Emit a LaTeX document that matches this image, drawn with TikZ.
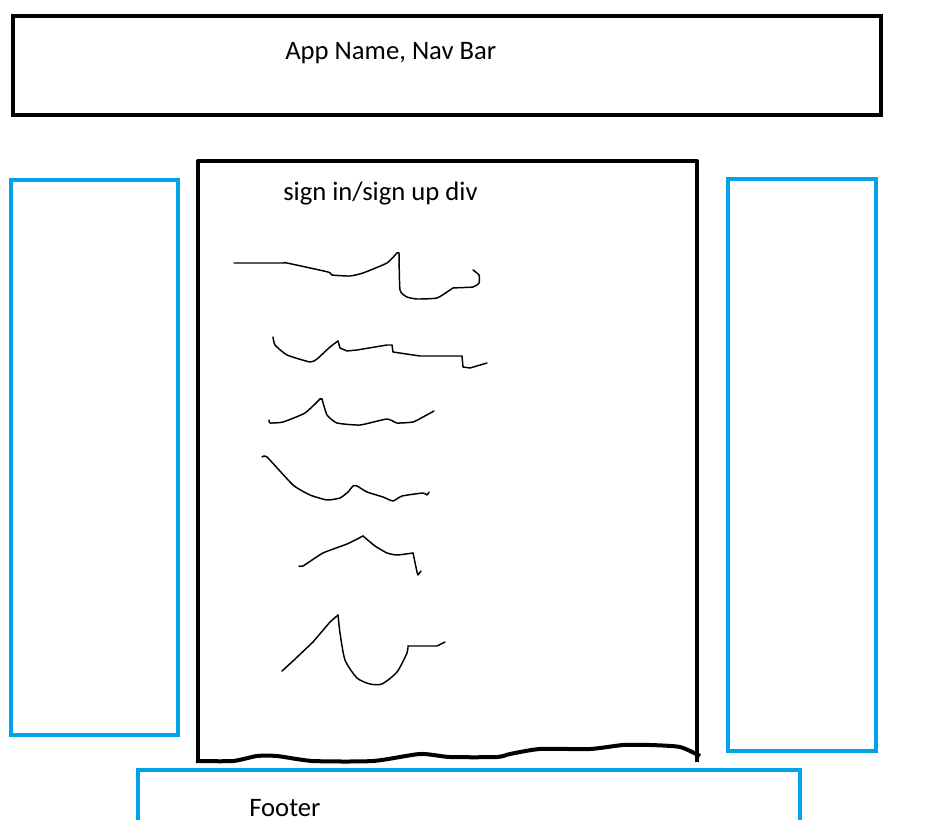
\documentclass[tikz,border=0pt]{standalone}
\usepackage{fontspec}
\setmainfont{Carlito}
\definecolor{paintblue}{HTML}{00A2E8}
\begin{document}
\begin{tikzpicture}[x=0.75pt,y=-0.75pt,
  blackbox/.style={draw=black,line width=3pt},
  bluebox/.style={draw=paintblue,line width=3pt},
  scribble/.style={draw=black,line width=1.1pt,line join=round,line cap=round},
  label/.style={font=\fontsize{20pt}{24pt}\selectfont,inner sep=0pt,anchor=base west}]
\useasboundingbox (0,0) rectangle (928,820);
% nav bar
\draw[blackbox] (13,16) rectangle (881,115);
\node[label] (nav) at (285,60) {App Name, Nav Bar};
% side boxes
\draw[bluebox] (11,180) rectangle (178,735);
\draw[bluebox] (728,179) rectangle (876,751);
% footer
\draw[bluebox] (138,822) -- (138,770) -- (800,770) -- (800,822);
\node[label] (foot) at (249,816) {Footer};
% main box
\draw[blackbox,line join=round] (198,761) -- (198,161) -- (697,161) -- (697,762);
\draw[blackbox,line join=round] plot[smooth,tension=0.4] coordinates {(196,761) (233,761) (257,756) (277,756) (313,761) (373,761) (420,754) (450,757) (497,757) (510,754) (540,749) (590,749) (623,745) (650,745) (680,747) (700,756)};
\node[label] (sign) at (283,200) {sign in/sign up div};
% scribbles
\draw[scribble] plot[smooth,tension=0.3] coordinates {(234,263) (283,263) (287,263) (328,272) (332,275) (350,276) (363,273) (387,263) (397,253) (399,253)};
\draw[scribble] plot[smooth,tension=0.3] coordinates {(399,253) (400,290) (407,297) (417,299) (437,298) (450,290) (453,288) (473,287) (479,283) (479,275) (473,270)};
\draw[scribble] plot[smooth,tension=0.3] coordinates {(273,337) (275,345) (287,355) (310,362) (317,359) (330,347) (338,341)};
\draw[scribble] (338,341) -- (340,348) -- (347,351) -- (357,350) -- (387,345) -- (392,345) -- (393,352) -- (420,356) -- (462,356) -- (463,367) -- (470,368) -- (487,363);
\draw[scribble] plot[smooth,tension=0.3] coordinates {(269,420) (270,423) (283,422) (305,413) (320,399)};
\draw[scribble] plot[smooth,tension=0.3] coordinates {(322,399) (327,415) (337,423) (360,425) (387,419) (397,423) (413,422) (423,417) (434,411)};
\draw[scribble] (320,399) -- (322,399);
\draw[scribble] plot[smooth,tension=0.3] coordinates {(262,457) (267,457) (293,485) (310,495) (327,500) (340,498) (348,492) (353,486) (357,486) (367,492) (383,497) (393,501) (402,496) (423,493) (427,495) (429,492)};
\draw[scribble] plot[smooth,tension=0.3] coordinates {(299,566) (303,566) (323,553) (347,544) (363,536)};
\draw[scribble] plot[smooth,tension=0.3] coordinates {(363,536) (375,546) (387,553) (397,555) (413,553)};
\draw[scribble] (413,553) -- (417,572) -- (418,575) -- (421,571);
\draw[scribble] (282,671) -- (293,661) -- (313,642) -- (330,622) -- (338,615);
\draw[scribble] plot[smooth,tension=0.4] coordinates {(338,615) (340,633) (345,660) (357,678) (370,684) (382,684) (397,672) (407,653) (408,646)};
\draw[scribble] (408,646) -- (437,646) -- (445,642);
\end{tikzpicture}
\end{document}
